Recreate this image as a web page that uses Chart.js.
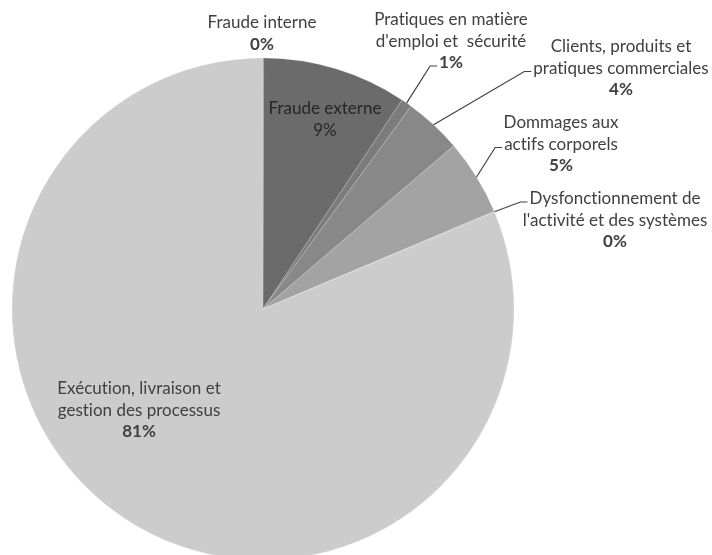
<!DOCTYPE html>
<html>
<head>
<meta charset="utf-8">
<script src="https://cdn.jsdelivr.net/npm/chart.js@4.4.1/dist/chart.umd.min.js"></script>
<style>
  html, body { margin: 0; padding: 0; background: #fff; overflow: hidden; }
  #wrap { width: 712px; height: 565px; position: relative; }
</style>
</head>
<body>
<div id="wrap"><canvas id="myChart"></canvas></div>
<script>
const categories = [
  'Fraude interne',
  'Fraude externe',
  "Pratiques en matière d'emploi et sécurité",
  'Clients, produits et pratiques commerciales',
  'Dommages aux actifs corporels',
  "Dysfonctionnement de l'activité et des systèmes",
  'Exécution, livraison et gestion des processus'
];
const lossShares = [0.04, 9.3, 0.7, 3.7, 4.9, 0.06, 81.3];
const percentLabels = ['0%', '9%', '1%', '4%', '5%', '0%', '81%'];
const labelLines = [
  ['Fraude interne'],
  ['Fraude externe'],
  ['Pratiques en matière', "d'emploi et  sécurité"],
  ['Clients, produits et', 'pratiques commerciales'],
  ['Dommages aux', 'actifs corporels'],
  ['Dysfonctionnement de', "l'activité et des systèmes"],
  ['Exécution, livraison et', 'gestion des processus']
];

const sliceColors = ['#5a5a5a', '#6b6b6b', '#7c7c7c', '#888888', '#a3a3a3', '#b8b8b8', '#cccccc'];

// where each label sits (centre of first line) and which line the leader hits
const labelLayout = [
  { x: 262, y: 23 },
  { x: 325, y: 109, bold: false, color: '#262626' },
  { x: 451, y: 20, leader: 2 },
  { x: 621, y: 47, leader: 1 },
  { x: 561, y: 123, leader: 1 },
  { x: 615, y: 199, leader: 0 },
  { x: 139, y: 389 }
];
const lineHeight = 21.5;
const fontFamily = "Lato, 'Noto Sans', sans-serif";
const fontSize = 17;

const pieLabels = {
  id: 'pieLabels',
  afterDraw(chart) {
    const ctx = chart.ctx;
    const arcs = chart.getDatasetMeta(0).data;
    ctx.save();
    ctx.textAlign = 'center';
    ctx.textBaseline = 'middle';
    // tiny spacing stops the "ti" ligature Lato would use
    if ('letterSpacing' in ctx) ctx.letterSpacing = '0.01px';
    arcs.forEach((arc, i) => {
      const p = arc.getProps(['x', 'y', 'startAngle', 'endAngle', 'outerRadius'], true);
      const lay = labelLayout[i];
      const lines = labelLines[i].concat([percentLabels[i]]);
      ctx.fillStyle = lay.color || '#404040';
      lines.forEach((txt, k) => {
        const isPct = k === lines.length - 1;
        const bold = isPct && lay.bold !== false;
        ctx.font = (bold ? 'bold ' : '') + fontSize + 'px ' + fontFamily;
        ctx.fillText(txt, lay.x, lay.y + k * lineHeight);
      });
      if (lay.leader !== undefined) {
        const k = lay.leader;
        const isPct = k === lines.length - 1;
        ctx.font = (isPct ? 'bold ' : '') + fontSize + 'px ' + fontFamily;
        const w = ctx.measureText(lines[k]).width;
        const endX = lay.x - w / 2 - 2;
        const endY = lay.y + k * lineHeight + 3;
        const mid = (p.startAngle + p.endAngle) / 2;
        const sx = p.x + Math.cos(mid) * p.outerRadius;
        const sy = p.y + Math.sin(mid) * p.outerRadius;
        ctx.strokeStyle = '#404040';
        ctx.lineWidth = 1.2;
        ctx.beginPath();
        ctx.moveTo(sx, sy);
        ctx.lineTo(endX - 7, endY);
        ctx.lineTo(endX, endY);
        ctx.stroke();
      }
    });
    ctx.restore();
  }
};

const data = {
  labels: categories,
  datasets: [{
    data: lossShares,
    backgroundColor: sliceColors,
    borderColor: 'rgba(255,255,255,0.3)',
    borderWidth: 0.5,
    radius: 251
  }]
};

const config = {
  type: 'pie',
  data: data,
  options: {
    responsive: true,
    maintainAspectRatio: false,
    animation: false,
    layout: { padding: { left: 12, right: 198, top: 58, bottom: 5 } },
    plugins: {
      legend: { display: false },
      tooltip: { enabled: false }
    }
  },
  plugins: [pieLabels]
};

let canvasChart = document.getElementById('myChart');
const myChart = new Chart(canvasChart, config);
</script>
</body>
</html>
